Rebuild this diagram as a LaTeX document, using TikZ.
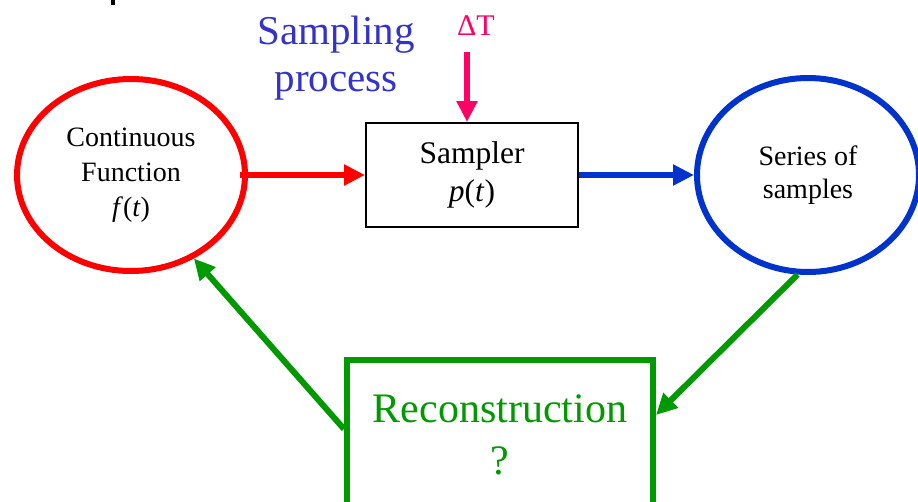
\documentclass[tikz,border=0pt]{standalone}
\usepackage{fontspec}
\setmainfont{Liberation Serif}
\usetikzlibrary{shapes.geometric,arrows.meta,positioning,calc}

\begin{document}
\begin{tikzpicture}[x=1pt, y=-1pt, every node/.style={align=center, inner sep=0pt},
        flow/.style={line width=6pt, -{Triangle[length=21pt, width=20pt]}}]
        \definecolor{sigred}{RGB}{255,0,0}
        \definecolor{sigblue}{RGB}{0,51,204}
        \definecolor{siggreen}{RGB}{0,153,0}
        \definecolor{sigpink}{RGB}{255,0,102}
        \definecolor{titleblue}{RGB}{51,51,204}

        \clip (0,0) rectangle (918,501);
        \fill (111,0) rectangle (115,5);

        % Shapes
        \node[ellipse, draw=sigred, line width=6pt, minimum width=228pt, minimum height=192pt,
              font=\fontsize{28}{35}\selectfont] (func) at (131,175) {Continuous\\Function\\\textit{f}(\textit{t})};
        \node[draw, line width=2pt, minimum width=212pt, minimum height=104pt,
              font=\fontsize{31.5}{38}\selectfont] (sampler) at (472,175) {Sampler\\\textit{p}(\textit{t})};
        \node[ellipse, draw=sigblue, line width=6pt, minimum width=222pt, minimum height=194pt,
              font=\fontsize{28}{33}\selectfont] (series) at (808,175) {Series of\\samples};
        \node[draw=siggreen, line width=6pt, minimum width=306pt, minimum height=150pt, text=siggreen,
              font=\fontsize{42}{52}\selectfont] (recon) at (500,435) {Reconstruction\\?};

        % Labels
        \node[text=titleblue, font=\fontsize{41}{47}\selectfont] (title) at (336,58) {Sampling\\process};
        \node[text=sigpink, font=\fontsize{30}{32}\selectfont] (dt) at (476,26) {ΔT};
        \coordinate (dtarrow) at (467,52);

        % Arrows
        \draw[flow, sigpink] (dtarrow) -- (dtarrow |- sampler.north);
        \draw[flow, sigred] ($(func.east)+(-8,0)$) -- (sampler.west);
        \draw[flow, sigblue] (sampler.east) -- (series.west);
        \draw[flow, siggreen] (series.-96) -- ($(recon.north east)+(0,58)$);
        \draw[flow, siggreen] ($(recon.north west)+(0,72)$) -- (func.-53);
    \end{tikzpicture}
\end{document}
